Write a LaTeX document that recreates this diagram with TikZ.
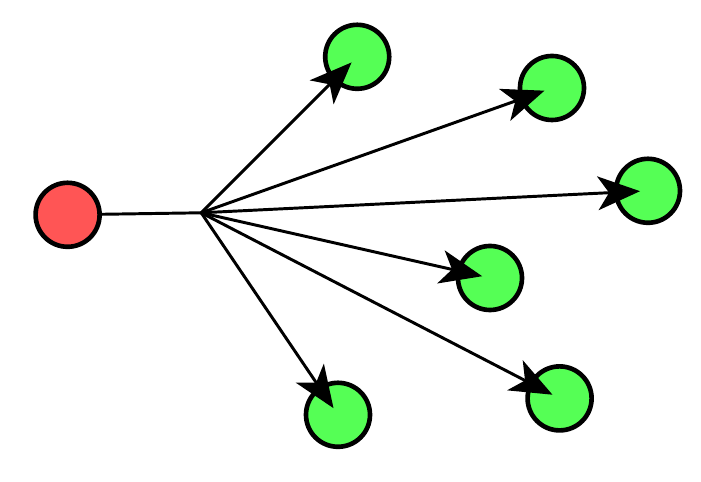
\documentclass[tikz,border=0pt]{standalone}
\usepackage{xcolor}
\usetikzlibrary{arrows.meta}
\definecolor{srcred}{HTML}{FF5555}
\definecolor{dstgreen}{HTML}{55FF55}

\begin{document}
\begin{tikzpicture}[>={Stealth[length=30pt,width=24pt,inset=8pt]},
  ball/.style={circle,draw=black,line width=3.3pt,minimum size=1.6cm,inner sep=0pt},
  link/.style={line width=2.1pt}]
  \useasboundingbox (0,0) rectangle (17.525,12.05);
  \node[ball,fill=srcred] (src) at (1.69,6.68) {};
  \coordinate (hub) at (5.03,6.73);
  \node[ball,fill=dstgreen] (d1) at (8.93,10.63) {};
  \node[ball,fill=dstgreen] (d2) at (13.8,9.85) {};
  \node[ball,fill=dstgreen] (d3) at (16.2,7.28) {};
  \node[ball,fill=dstgreen] (d4) at (12.25,5.1) {};
  \node[ball,fill=dstgreen] (d5) at (13.99,2.09) {};
  \node[ball,fill=dstgreen] (d6) at (8.45,1.68) {};
  \draw[link] (src) -- (hub);
  \foreach \d in {d1,d2,d3,d4,d5,d6}
    \draw[link,->,shorten >=0.2cm] (hub) -- (\d.center);
\end{tikzpicture}
\end{document}
